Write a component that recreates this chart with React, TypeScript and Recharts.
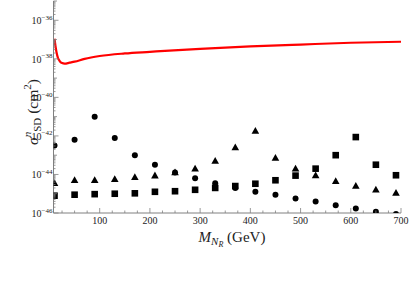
import React from "react";
import { ComposedChart, Line, Scatter, XAxis, YAxis } from "recharts";

// neutralino mass grid for the scan points (GeV)
const masses = [10, 50, 90, 130, 170, 210, 250, 290, 330, 370, 410, 450, 490, 530, 570, 610, 650, 690];

// sigma_SD (cm^2)
const circleValues = [
  3.2e-43, 6.3e-43, 1.0e-41, 7.9e-43, 1.0e-43, 3.2e-44, 1.26e-44, 6.3e-45, 3.5e-45,
  2.0e-45, 1.26e-45, 8.9e-46, 5.6e-46, 4.0e-46, 2.5e-46, 1.7e-46, 1.15e-46, 9e-47,
];
const triangleValues = [
  3.5e-45, 5.0e-45, 5.0e-45, 5.6e-45, 7.1e-45, 8.7e-45, 1.26e-44, 2.0e-44, 5.0e-44,
  2.5e-43, 1.8e-42, 7.1e-44, 2.0e-44, 8.9e-45, 4.5e-45, 2.5e-45, 1.6e-45, 1.1e-45,
];
const squareValues = [
  7.9e-46, 8.9e-46, 9.5e-46, 1.0e-45, 1.05e-45, 1.26e-45, 1.35e-45, 1.6e-45, 2.0e-45,
  2.5e-45, 3.3e-45, 5.0e-45, 8.7e-45, 2.0e-44, 1.0e-43, 8.7e-43, 3.2e-44, 9.1e-45,
];

// experimental limit curve
const limitMasses = [10, 12, 14, 17, 20, 25, 30, 40, 50, 70, 100, 150, 200, 300, 400, 500, 600, 700];
const limitValues = [
  1.1e-37, 4.5e-38, 2.2e-38, 1.1e-38, 7.9e-39, 6.0e-39, 5.6e-39, 6.3e-39, 7.1e-39,
  1.0e-38, 1.4e-38, 1.9e-38, 2.3e-38, 3.3e-38, 4.4e-38, 5.5e-38, 6.8e-38, 7.7e-38,
];

const xMajorTicks = [100, 200, 300, 400, 500, 600, 700];
const xMinorStep = 25;
const yLabelExponents = [-46, -44, -42, -40, -38, -36];
const yDecades = [-46, -45, -44, -43, -42, -41, -40, -39, -38, -37, -36, -35];

const W = 415;
const H = 306;
const PLOT = { left: 53.5, right: 401, top: 1, bottom: 213 };
const FONT = "'Liberation Serif', 'Times New Roman', serif";
const FRAME = "#808080";

const xTicks: number[] = [];
for (let v = xMinorStep; v <= 700; v += xMinorStep) xTicks.push(v);

const yTicks: number[] = [];
yDecades.forEach((e) => {
  for (let m = 1; m <= 9; m++) {
    if (e === -35 && m > 1) break;
    yTicks.push(m * Math.pow(10, e));
  }
});

const toPoints = (vals: number[]) => masses.map((m, i) => ({ m, v: vals[i] }));
const circleData = toPoints(circleValues);
const triangleData = toPoints(triangleValues);
const squareData = toPoints(squareValues);
const limitData = limitMasses.map((m, i) => ({ m, v: limitValues[i] }));

const expOf = (v: number) => Math.round(Math.log10(v) * 1000) / 1000;
const isDecade = (v: number) => Number.isInteger(expOf(v));

const XTick = ({ x, payload, top }: any) => {
  const major = xMajorTicks.includes(payload.value);
  const len = major ? 5 : 2.5;
  const y0 = top ? PLOT.top : PLOT.bottom;
  const y1 = top ? y0 + len : y0 - len;
  return (
    <g>
      <line x1={x} x2={x} y1={y0} y2={y1} stroke={FRAME} strokeWidth={0.8} />
      {!top && major && (
        <text x={x} y={PLOT.bottom + 11} textAnchor="middle" fontFamily={FONT} fontSize={10} fill="#222">
          {payload.value}
        </text>
      )}
    </g>
  );
};

const YTick = ({ y, payload, right }: any) => {
  const e = expOf(payload.value);
  const decade = isDecade(payload.value);
  const labelled = decade && yLabelExponents.includes(e);
  const len = labelled ? 5 : decade ? 3.5 : 2;
  const x0 = right ? PLOT.right : PLOT.left;
  const x1 = right ? x0 - len : x0 + len;
  return (
    <g>
      <line x1={x0} x2={x1} y1={y} y2={y} stroke={FRAME} strokeWidth={0.8} />
      {!right && labelled && (
        <text x={PLOT.left - 1} y={y + 4} textAnchor="end" fontFamily={FONT} fontSize={10} fill="#222">
          10
          <tspan fontSize={7} dy={-4.5}>
            {"\u2212" + Math.abs(e)}
          </tspan>
        </text>
      )}
    </g>
  );
};

const Circle = ({ cx, cy }: any) => <circle cx={cx} cy={cy} r={3} fill="#000" />;
const Triangle = ({ cx, cy }: any) => (
  <polygon points={`${cx},${cy - 4} ${cx - 3.8},${cy + 2.8} ${cx + 3.8},${cy + 2.8}`} fill="#000" />
);
const Square = ({ cx, cy }: any) => <rect x={cx - 3.3} y={cy - 3.3} width={6.6} height={6.6} fill="#000" />;

export default function App() {
  return (
    <div style={{ position: "relative", width: W, height: H, background: "#fff" }}>
      <style>{`body{margin:0}`}</style>
      <ComposedChart width={W} height={H} margin={{ top: PLOT.top, right: W - PLOT.right, bottom: 0, left: 0 }}>
        <XAxis
          xAxisId={0}
          dataKey="m"
          type="number"
          domain={[8, 700]}
          allowDataOverflow
          ticks={xTicks}
          interval={0}
          height={H - PLOT.bottom}
          tickLine={false}
          tickSize={0}
          tickMargin={0}
          stroke={FRAME}
          tick={<XTick />}
        />
        <XAxis
          xAxisId={1}
          orientation="top"
          dataKey="m"
          type="number"
          domain={[8, 700]}
          allowDataOverflow
          ticks={xTicks}
          interval={0}
          height={0}
          tickLine={false}
          tickSize={0}
          stroke={FRAME}
          tick={<XTick top />}
        />
        <YAxis
          yAxisId={0}
          dataKey="v"
          type="number"
          scale="log"
          domain={[1e-46, 1e-35]}
          allowDataOverflow
          ticks={yTicks}
          interval={0}
          width={PLOT.left}
          tickLine={false}
          tickSize={0}
          tickMargin={0}
          stroke={FRAME}
          tick={<YTick />}
        />
        <YAxis
          yAxisId={1}
          orientation="right"
          dataKey="v"
          type="number"
          scale="log"
          domain={[1e-46, 1e-35]}
          allowDataOverflow
          ticks={yTicks}
          interval={0}
          width={0}
          tickLine={false}
          tickSize={0}
          stroke={FRAME}
          tick={<YTick right />}
        />
        <Line
          data={limitData}
          dataKey="v"
          type="monotone"
          stroke="#ff0000"
          strokeWidth={2.2}
          dot={false}
          isAnimationActive={false}
        />
        <Scatter data={circleData} dataKey="v" shape={<Circle />} isAnimationActive={false} />
        <Scatter data={triangleData} dataKey="v" shape={<Triangle />} isAnimationActive={false} />
        <Scatter data={squareData} dataKey="v" shape={<Square />} isAnimationActive={false} />
      </ComposedChart>
      <svg width={W} height={H} style={{ position: "absolute", left: 0, top: 0, pointerEvents: "none" }}>
        <text
          transform="translate(38,112) rotate(-90)"
          textAnchor="middle"
          fontFamily={FONT}
          fontSize={15.5}
          fill="#222"
        >
          <tspan fontStyle="italic">σ</tspan>
          <tspan fontStyle="italic" fontSize={11} dy={-7}>
            n
          </tspan>
          <tspan fontSize={11} dy={10}>
            SD
          </tspan>
          <tspan dy={-3}> (cm</tspan>
          <tspan fontSize={11} dy={-7}>
            2
          </tspan>
          <tspan dy={7}>)</tspan>
        </text>
        <text x={232} y={242} textAnchor="middle" fontFamily={FONT} fontSize={15} fill="#222">
          <tspan fontStyle="italic">M</tspan>
          <tspan fontStyle="italic" fontSize={11} dy={3}>
            N
          </tspan>
          <tspan fontStyle="italic" fontSize={8} dy={2}>
            R
          </tspan>
          <tspan dy={-5}> (GeV)</tspan>
        </text>
      </svg>
    </div>
  );
}
